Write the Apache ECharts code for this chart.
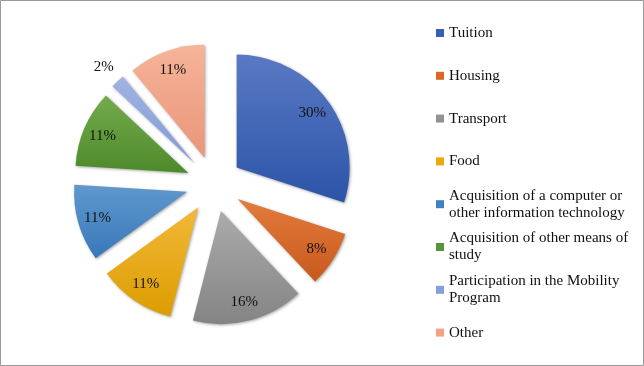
<!DOCTYPE html>
<html>
<head>
<meta charset="utf-8">
<script src="https://cdn.jsdelivr.net/npm/echarts@6/dist/echarts.min.js"></script>
<style>
html,body{margin:0;padding:0;background:#fff;}
#chart{width:644px;height:366px;}
</style>
</head>
<body>
<div id="chart"></div>
<script>
var categories = ['Tuition','Housing','Transport','Food',
  'Acquisition of a computer or other information technology',
  'Acquisition of other means of study',
  'Participation in the Mobility Program','Other'];
var values = [30, 8, 16, 11, 11, 11, 2, 11];
var legendLabels = ['Tuition','Housing','Transport','Food',
  'Acquisition of a computer or\nother information technology',
  'Acquisition of other means of\nstudy',
  'Participation in the Mobility\nProgram','Other'];
var topColors = ['#5a79c4','#e27c3c','#ababab','#f2b83a','#6098cd','#74ab4c','#a1b3e2','#f6b498'];
var bottomColors = ['#2b54a7','#c9591d','#848484','#dc9d00','#3878ba','#4d8a2b','#8099d6','#ea957a'];
var legendColors = ['#3560b0','#dc6624','#929292','#ebaa08','#3f80c2','#58953a','#869fda','#f2a283'];

var FONT = '"Times New Roman","Liberation Serif",serif';
var R = 113, OFFSET = 28, CENTER = [214, 184];

function grad(i){
  return new echarts.graphic.LinearGradient(0,0,0,1,[
    {offset:0,color:topColors[i]},{offset:1,color:bottomColors[i]}]);
}

var mainData = categories.map(function(n,i){
  return {name:n, value:values[i], selected:true,
    itemStyle:{color:grad(i), shadowBlur:3, shadowColor:'rgba(0,0,0,0.35)', shadowOffsetX:1, shadowOffsetY:1}};
});
var labelData = categories.map(function(n,i){
  return {name:n, value:values[i], selected:true,
    label:{show: values[i] >= 5}};
});
var outerLabelData = categories.map(function(n,i){
  return {name:n, value:values[i], selected:true,
    label:{show: values[i] < 5}};
});

var labelCommon = {position:'inside', formatter:'{c}%', fontFamily:FONT, fontSize:15, color:'#111111'};

var legends = categories.map(function(n,i){
  var twoLine = legendLabels[i].indexOf('\n') >= 0;
  var cy = 33 + i*42.8;
  return {
    orient:'vertical', left:436, top: cy - (twoLine ? 25.5 : 8.5), padding:0,
    itemWidth:8, itemHeight:8, icon:'rect', selectedMode:false,
    data:[{name:n, itemStyle:{color:legendColors[i]}}],
    formatter:function(){ return legendLabels[i]; },
    textStyle:{fontFamily:FONT, fontSize:15, color:'#111111', lineHeight:17,
      padding: twoLine ? [17,0,0,0] : 0}
  };
});

var chart = echarts.init(document.getElementById('chart'), null, {renderer:'canvas'});
chart.setOption({
  animation:false,
  backgroundColor:'#ffffff',
  legend: legends,
  graphic:[{type:'rect', shape:{x:0.5,y:0.5,width:643,height:365}, style:{fill:'none', stroke:'#9a9a9a', lineWidth:1}, silent:true}],
  series:[
    {type:'pie', center:CENTER, radius:[0,R], startAngle:90, clockwise:true,
     selectedMode:'multiple', selectedOffset:OFFSET, avoidLabelOverlap:false,
     label:{show:false}, labelLine:{show:false}, emphasis:{disabled:true},
     data:mainData},
    {type:'pie', center:CENTER, radius:[R*0.6,R], startAngle:90, clockwise:true,
     selectedMode:'multiple', selectedOffset:OFFSET, avoidLabelOverlap:false, silent:true,
     itemStyle:{color:'rgba(0,0,0,0)'}, label:labelCommon, labelLine:{show:false},
     emphasis:{disabled:true}, data:labelData},
    {type:'pie', center:CENTER, radius:[R+7,R+27], startAngle:90, clockwise:true,
     selectedMode:'multiple', selectedOffset:OFFSET, avoidLabelOverlap:false, silent:true,
     itemStyle:{color:'rgba(0,0,0,0)'}, label:labelCommon, labelLine:{show:false},
     emphasis:{disabled:true}, data:outerLabelData}
  ]
});
</script>
</body>
</html>
